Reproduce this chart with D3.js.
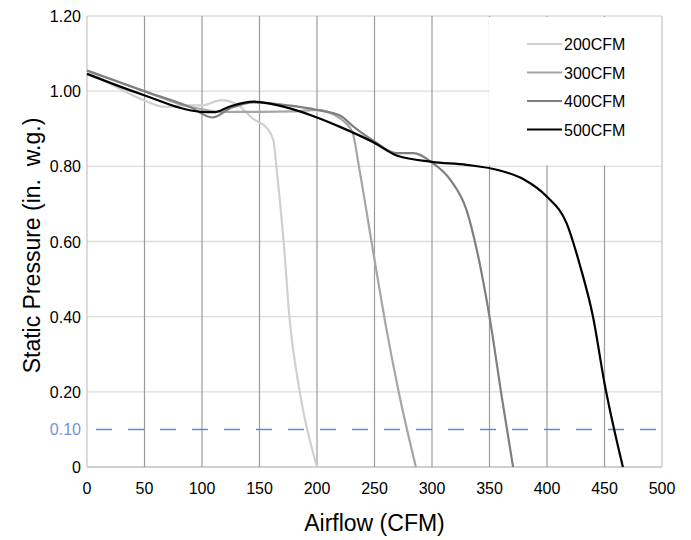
<!DOCTYPE html>
<html>
<head>
<meta charset="utf-8">
<script src="https://cdn.jsdelivr.net/npm/d3@7"></script>
<style>
  body { margin: 0; background: #fff; }
  svg text { font-family: "Liberation Sans", Arial, sans-serif; fill: #000; }
</style>
</head>
<body>
<script>
const w = 691;
const h = 540;

// series: [airflow CFM, static pressure in. w.g.]
const cfm200 = [[0,1.055],[25,1.012],[50,0.975],[68,0.958],[85,0.962],[100,0.962],[117,0.976],[130,0.966],[145,0.925],[156,0.903],[162,0.87],[165,0.79],[171,0.60],[176,0.40],[185,0.20],[200,0]];
const cfm300 = [[0,1.055],[50,1.0],[80,0.966],[100,0.952],[115,0.945],[150,0.945],[180,0.946],[200,0.95],[215,0.937],[224,0.918],[231,0.889],[237,0.79],[249,0.57],[259,0.39],[271,0.20],[286,0]];
const cfm400 = [[0,1.055],[50,1.0],[90,0.957],[109,0.93],[125,0.955],[145,0.97],[175,0.962],[200,0.95],[220,0.935],[232,0.905],[249,0.868],[269,0.835],[284,0.835],[300,0.81],[316,0.764],[330,0.684],[339,0.577],[350,0.40],[361,0.18],[370.5,0]];
const cfm500 = [[0,1.046],[49,0.99],[99,0.945],[110,0.944],[125,0.96],[145,0.972],[160,0.966],[200,0.93],[220,0.905],[249,0.864],[270,0.828],[300,0.812],[330,0.804],[359,0.789],[380,0.765],[400,0.719],[417,0.649],[429,0.533],[440,0.40],[450,0.223],[466,0]];

const seriesNames = ['200CFM','300CFM','400CFM','500CFM'];
const seriesData = [cfm200, cfm300, cfm400, cfm500];
const seriesColors = ['#d0d0d0','#a6a6a6','#7f7f7f','#000000'];

const xTicks = [0,50,100,150,200,250,300,350,400,450,500];
const yTicks = [0,0.2,0.4,0.6,0.8,1.0,1.2];
const yTickLabels = ['0','0.20','0.40','0.60','0.80','1.00','1.20'];
const refLine = 0.10;
const refLabel = '0.10';

const x = d3.scaleLinear().domain([0,500]).range([87,662]);
const y = d3.scaleLinear().domain([0,1.2]).range([467,16]);

let svg = d3.select('body')
  .append('svg')
  .attr('width', w)
  .attr('height', h);

// horizontal grid
svg.selectAll('line.hgrid')
  .data(yTicks)
  .enter()
  .append('line')
  .attr('x1', x(0)).attr('x2', x(500))
  .attr('y1', d => y(d)).attr('y2', d => y(d))
  .attr('stroke', d => d === 0 ? '#bfbfbf' : '#dcdcdc')
  .attr('stroke-width', 1.3);

// vertical grid
svg.selectAll('line.vgrid')
  .data(xTicks)
  .enter()
  .append('line')
  .attr('x1', d => x(d)).attr('x2', d => x(d))
  .attr('y1', y(0)).attr('y2', y(1.2))
  .attr('stroke', d => (d === 0 || d === 500) ? '#c4c4c4' : '#9a9a9a')
  .attr('stroke-width', 1.2);

// reference dashed line
svg.append('line')
  .attr('x1', x(0)).attr('x2', x(500))
  .attr('y1', y(refLine)).attr('y2', y(refLine))
  .attr('stroke', '#5f8ae0')
  .attr('stroke-width', 1.5)
  .attr('stroke-dasharray', '16,16')
  .attr('stroke-dashoffset', -9);

// legend background
svg.append('rect')
  .attr('x', 489).attr('y', y(1.2) + 1)
  .attr('width', x(500) - 489 - 1)
  .attr('height', y(0.8) - y(1.2) - 2)
  .attr('fill', '#fff');

// curves
const line = d3.line()
  .x(d => x(d[0]))
  .y(d => y(d[1]))
  .curve(d3.curveMonotoneX);

svg.selectAll('path.series')
  .data(seriesData)
  .enter()
  .append('path')
  .attr('d', d => line(d))
  .attr('fill', 'none')
  .attr('stroke', (d, i) => seriesColors[i])
  .attr('stroke-width', 2.2)
  .attr('stroke-linejoin', 'round');

// y tick labels
svg.selectAll('text.ytick')
  .data(yTicks)
  .enter()
  .append('text')
  .text((d, i) => yTickLabels[i])
  .attr('x', 81)
  .attr('y', d => y(d) + 6)
  .attr('text-anchor', 'end')
  .style('font-size', '16px');

svg.append('text')
  .text(refLabel)
  .attr('x', 81)
  .attr('y', y(refLine) + 6)
  .attr('text-anchor', 'end')
  .style('font-size', '16px')
  .style('fill', '#6f95dc');

// x tick labels
svg.selectAll('text.xtick')
  .data(xTicks)
  .enter()
  .append('text')
  .text(d => d)
  .attr('x', d => x(d))
  .attr('y', 494)
  .attr('text-anchor', 'middle')
  .style('font-size', '16px');

// axis titles
svg.append('text')
  .text('Airflow (CFM)')
  .attr('x', (x(0) + x(500)) / 2)
  .attr('y', 531)
  .attr('text-anchor', 'middle')
  .style('font-size', '23px');

svg.append('text')
  .text('Static Pressure (in.\u00a0\u00a0w.g.)')
  .attr('transform', 'translate(40,' + (y(0.6) + 4) + ') rotate(-90)')
  .attr('text-anchor', 'middle')
  .style('font-size', '23px');

// legend
const leg = svg.selectAll('g.legend')
  .data(seriesNames)
  .enter()
  .append('g')
  .attr('transform', (d, i) => 'translate(527,' + (44 + i * 28.5) + ')');

leg.append('line')
  .attr('x1', 0).attr('x2', 35)
  .attr('y1', 0).attr('y2', 0)
  .attr('stroke', (d, i) => seriesColors[i])
  .attr('stroke-width', 2.2);

leg.append('text')
  .text(d => d)
  .attr('x', 37)
  .attr('y', 6)
  .style('font-size', '16px');
</script>
</body>
</html>
